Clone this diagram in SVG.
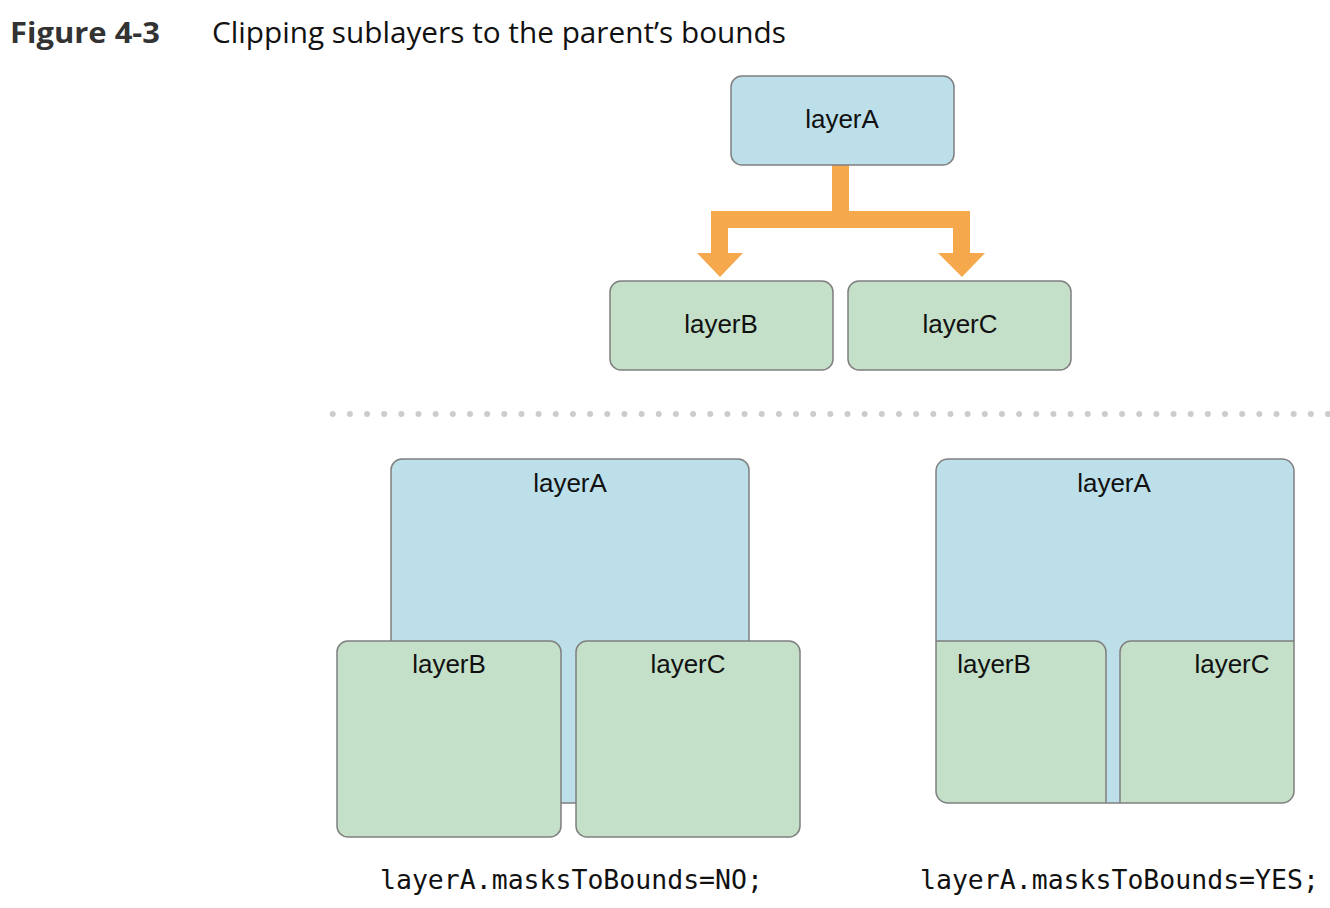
<svg xmlns="http://www.w3.org/2000/svg" width="1330" height="908" viewBox="0 0 1330 908">
<defs>
<style>
.blue{fill:#bcdfea;stroke:#7f7f7f;stroke-width:1.5}
.green{fill:#c4e0c9;stroke:#7f7f7f;stroke-width:1.5}
.lbl{font-family:"Liberation Sans",Arial,sans-serif;font-size:26px;fill:#111;text-anchor:middle}
.code{font-family:"DejaVu Sans Mono",monospace;font-size:26.5px;fill:#111}
.arrow{fill:#f5a94c}
</style>
<clipPath id="clipA"><rect x="936" y="459" width="358" height="344" rx="12"/></clipPath>
</defs>
<rect width="1330" height="908" fill="#fff"/>
<g id="title">
<text x="10" y="43" font-family="'Open Sans','Noto Sans',sans-serif" font-weight="bold" font-size="28" fill="#333" textLength="150" lengthAdjust="spacingAndGlyphs">Figure 4-3</text>
<text x="212" y="43" font-family="'Open Sans','Noto Sans',sans-serif" font-size="29" fill="#111" textLength="574" lengthAdjust="spacingAndGlyphs">Clipping sublayers to the parent’s bounds</text>
</g>
<g id="connectors">
<path class="arrow" d="M832,165 H849 V211 H970 V253 H985 L962,277 L938,253 H953 V228 H728 V253 H743 L720,277 L697,253 H711 V211 H832 Z"/>
</g>
<g id="top-layerA"><rect class="blue" x="731" y="76" width="223" height="89" rx="11"/><text class="lbl" x="842" y="128">layerA</text></g>
<g id="top-layerB"><rect class="green" x="610" y="281" width="223" height="89" rx="11"/><text class="lbl" x="721" y="333">layerB</text></g>
<g id="top-layerC"><rect class="green" x="848" y="281" width="223" height="89" rx="11"/><text class="lbl" x="960" y="333">layerC</text></g>
<g id="divider">
<path d="M332.7,414 H1345" stroke="#cccccc" stroke-width="6" stroke-linecap="round" stroke-dasharray="0 17.16" fill="none"/>
</g>
<g id="left-example">
<rect class="blue" x="391" y="459" width="358" height="344" rx="11"/>
<text class="lbl" x="570" y="492">layerA</text>
<rect class="green" x="337" y="641" width="224" height="196" rx="11"/>
<text class="lbl" x="449" y="673">layerB</text>
<rect class="green" x="576" y="641" width="224" height="196" rx="11"/>
<text class="lbl" x="688" y="673">layerC</text>
<text class="code" x="380" y="889">layerA.masksToBounds=NO;</text>
</g>
<g id="right-example">
<rect x="936" y="459" width="358" height="344" rx="12" fill="#bcdfea"/>
<text class="lbl" x="1114" y="492">layerA</text>
<g clip-path="url(#clipA)">
<rect class="green" x="882" y="641" width="224" height="196" rx="11"/>
<rect class="green" x="1120" y="641" width="224" height="196" rx="11"/>
</g>
<rect x="936" y="459" width="358" height="344" rx="12" fill="none" stroke="#7f7f7f" stroke-width="1.5"/>
<text class="lbl" x="994" y="673">layerB</text>
<text class="lbl" x="1232" y="673">layerC</text>
<text class="code" x="920" y="889">layerA.masksToBounds=YES;</text>
</g>
</svg>
